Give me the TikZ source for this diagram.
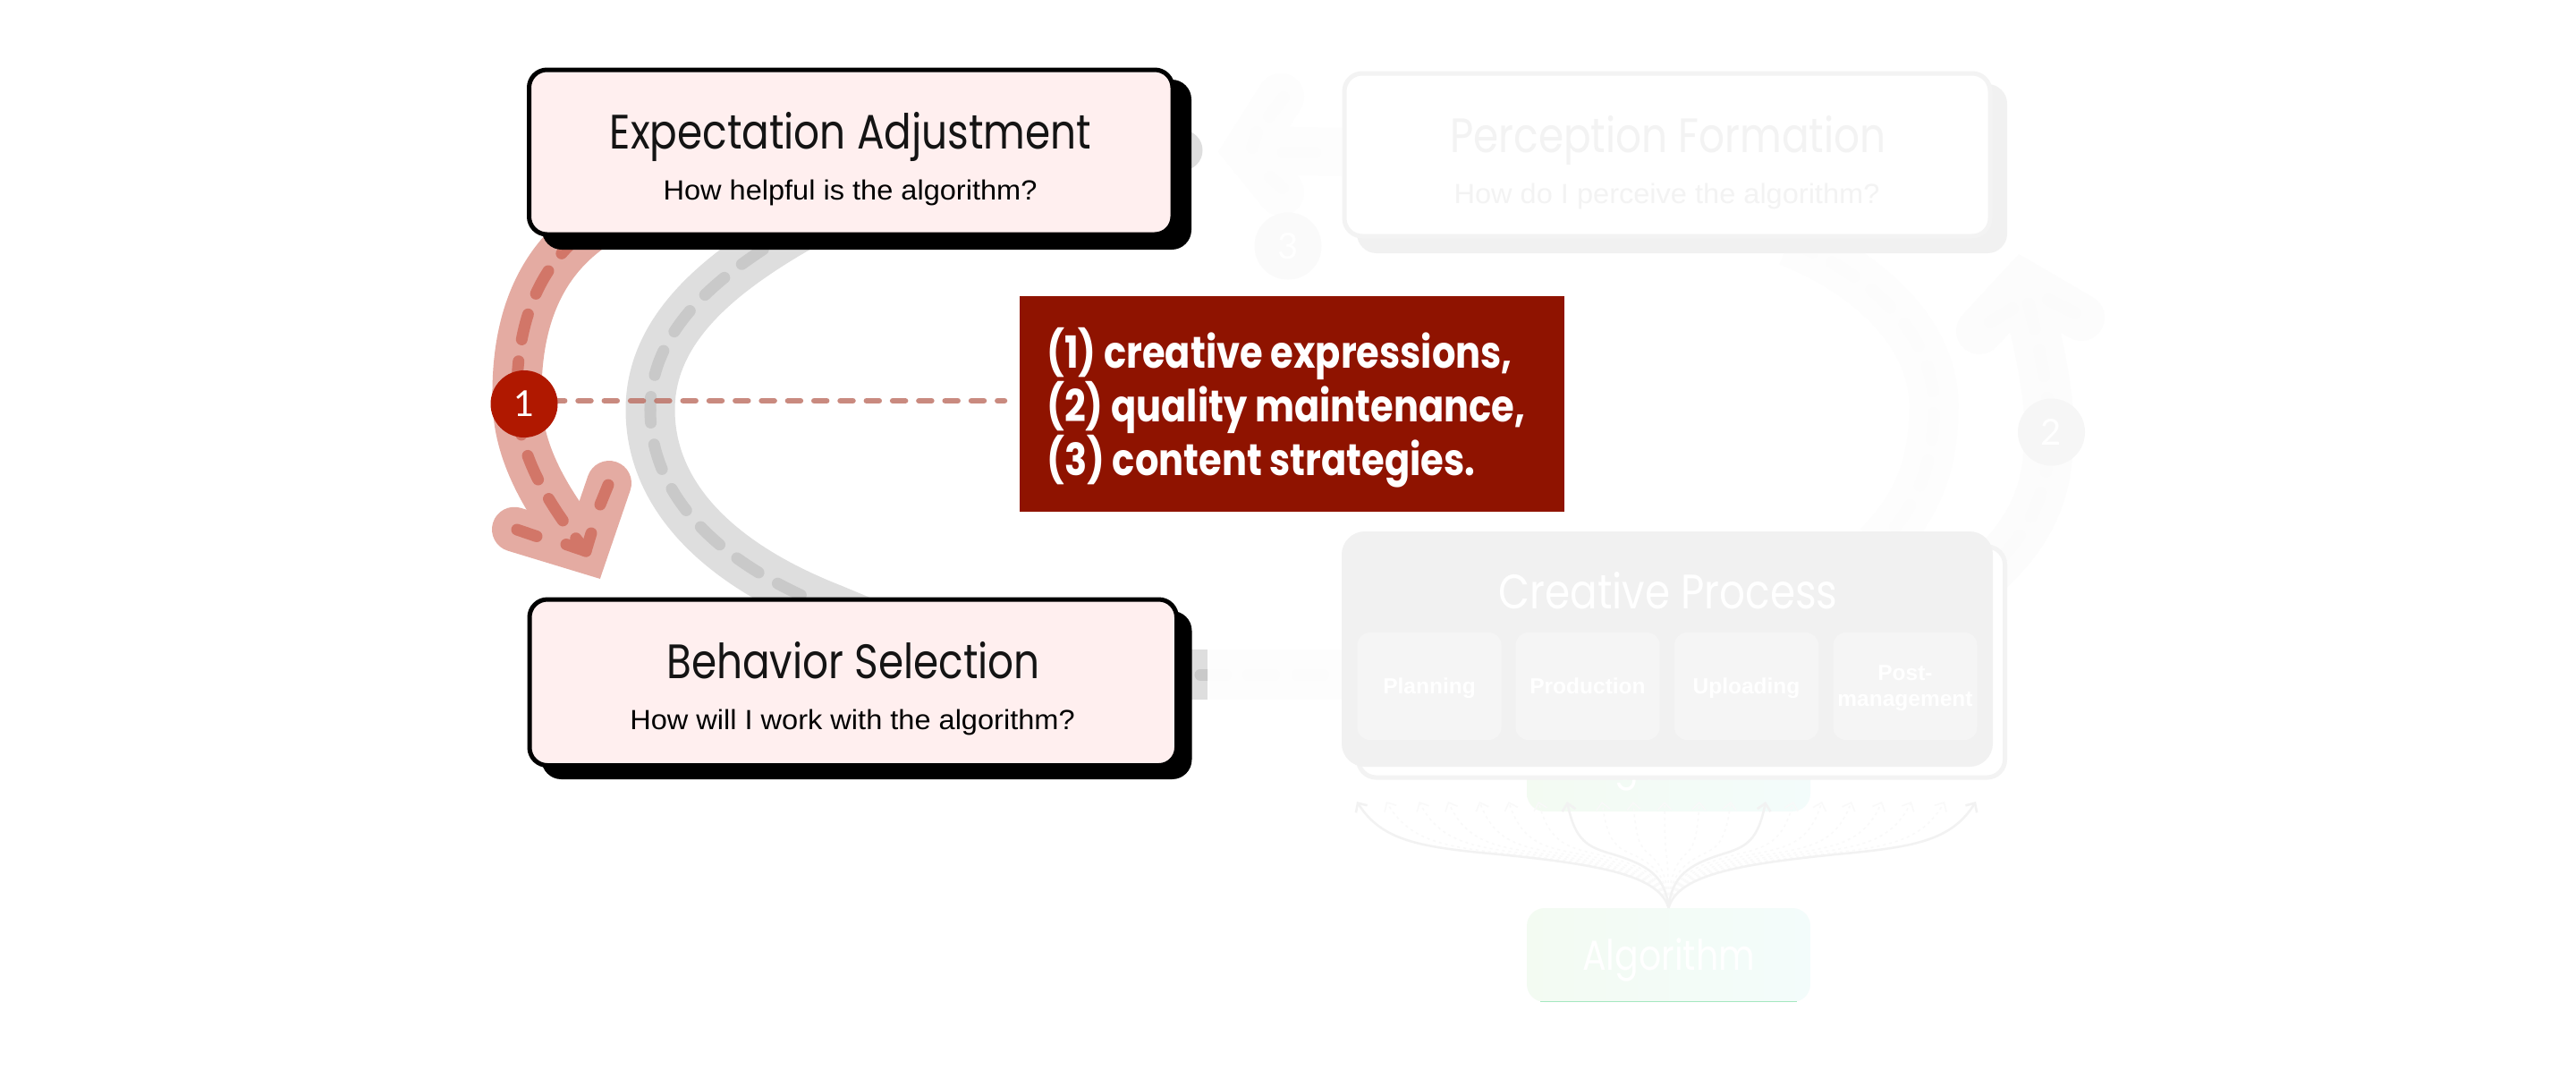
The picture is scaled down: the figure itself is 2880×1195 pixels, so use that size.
\documentclass[tikz,border=0pt]{standalone}
\usepackage{fontspec}
\usetikzlibrary{arrows.meta,calc}
\setmainfont{Liberation Sans}
\newfontfamily\outfit[FakeStretch=0.84]{Poppins}
\newfontfamily\numfont{Lato}
\newfontfamily\interish[FakeStretch=1.05]{Liberation Sans}
\definecolor{roadred}{HTML}{E4ABA2}
\definecolor{dashred}{HTML}{D27668}
\definecolor{roadgray}{HTML}{DEDEDE}
\definecolor{dashgray}{HTML}{C9C9C9}
\definecolor{pinkfill}{HTML}{FFEFEF}
\definecolor{darkred}{HTML}{8F1300}
\definecolor{circred}{HTML}{B01800}
\definecolor{linkred}{HTML}{BC6D60}
\definecolor{ink}{HTML}{141414}
\definecolor{faintA}{HTML}{FCFCFC}
\definecolor{faintB}{HTML}{FBFBFB}
\definecolor{faintC}{HTML}{FDFDFD}
\definecolor{circ3}{HTML}{FAFAFA}
\definecolor{ghost}{HTML}{F3F3F3}
\definecolor{procfill}{HTML}{F1F1F1}
\definecolor{subfill}{HTML}{F5F5F5}
\definecolor{greenL}{HTML}{F3FBF2}
\definecolor{greenR}{HTML}{F3FCFB}
\definecolor{greenline}{HTML}{A5E8C0}
\definecolor{F0col}{HTML}{F2F2F2}
\definecolor{F5col}{HTML}{F9F9F9}
\tikzset{
  road/.style={line width=55pt,line cap=butt,line join=round},
  lanedash/.style={line width=13pt,line cap=round,dash pattern=on 29pt off 24.6pt},
  segdash/.style={line width=13pt,line cap=round,line join=round},
  head/.style={line width=52pt,line cap=round,line join=miter,miter limit=10},
  cardbox/.style={rectangle,rounded corners=20pt,draw=black,line width=5pt,fill=pinkfill,inner sep=0pt},
  blackshadow/.style={rectangle,rounded corners=22pt,fill=black,inner sep=0pt},
  ghostshadow/.style={rectangle,rounded corners=22pt,fill=procfill,inner sep=0pt},
  ghostbox/.style={rectangle,rounded corners=20pt,draw=ghost,line width=5pt,fill=white,inner sep=0pt},
  subbox/.style={rectangle,rounded corners=14pt,fill=subfill,inner sep=0pt,minimum width=161pt,minimum height=120pt},
  cardtitle/.style={anchor=base,inner sep=0pt,font=\outfit\fontsize{54}{60}\selectfont},
  cardsub/.style={anchor=base,inner sep=0pt,font=\interish\fontsize{31}{36}\selectfont},
  algotext/.style={anchor=base,inner sep=0pt,text=white,font=\outfit\fontsize{47}{52}\selectfont},
  resulttext/.style={anchor=base west,inner sep=0pt,text=white,font=\outfit\bfseries\fontsize{49.5}{60}\selectfont},
  steplabel/.style={circle,inner sep=0pt,minimum size=75pt,font=\numfont\fontsize{40}{48}\selectfont,text=white},
  subtext/.style={anchor=base,inner sep=0pt,text=white,font=\bfseries\fontsize{24.5}{29}\selectfont,align=center},
  fanline/.style={line width=2.5pt,color=F0col,-{Straight Barb[length=8pt,width=15pt]}},
  fandot/.style={line width=1.5pt,color=F5col,dash pattern=on 3pt off 4pt,-{Straight Barb[length=8pt,width=15pt]}},
}
\newcommand{\fanpath}[2]{%
  \coordinate (tip) at (#1,896);
  \pgfmathsetmacro{\dx}{1865.5-#1}
  \draw[#2] (alg.north) .. controls ($(alg.north)+(-0.03*\dx,-35)$) and ($(alg.north)+(-0.2*\dx,-48)$) .. ($(alg.north)+(-0.55*\dx,-60)$)
     .. controls ($(alg.north)+(-0.8*\dx,-68)$) and ($(alg.north)+(-0.92*\dx,-75)$) .. (tip);
}
\begin{document}
\begin{tikzpicture}[x=1pt,y=-1pt]
\useasboundingbox (0,0) rectangle (2880,1195);
\fill[white] (0,0) rectangle (2880,1195);

% ---------- faint (de-emphasised) right half ----------
\coordinate (pfW) at (1500,170);
\coordinate (h3V) at (1394,168);
\draw[faintC,road,line width=54pt] (pfW) -- (h3V);
\draw[faintC,head] (1432,108) -- (h3V) -- (1432,215);
\draw[faintA,segdash] (1435,109) -- (1419,130);
\draw[faintA,segdash] (1400,165) -- (1405,148);
\draw[faintA,segdash] (1434,210) -- (1420,198);
\draw[faintA,segdash] (1435,170) -- (1470,170);

\coordinate (h2V) at (2262,317);
\draw[faintA,road] (2200,657) .. controls (2262,610) and (2288,560) .. (2290,500)
   .. controls (2295,470) and (2285,400) .. (h2V);
\draw[faintA,head] (2213,370) -- (h2V) -- (2327,355);
\draw[faintB,lanedash] (2200,657) .. controls (2262,610) and (2288,560) .. (2290,500)
   .. controls (2295,470) and (2285,400) .. (h2V);
\draw[faintB,segdash] (2225,360) -- (2250,345);
\draw[faintB,segdash] (2320,350) -- (2290,335);

\draw[faintC,road] (2000,270) .. controls (2100,310) and (2162,380) .. (2162,453)
   .. controls (2162,510) and (2150,560) .. (2100,610);
\draw[faintA,lanedash] (2000,270) .. controls (2100,310) and (2162,380) .. (2162,453)
   .. controls (2162,510) and (2150,560) .. (2100,610);

\node[ghostshadow,minimum width=727pt,minimum height=189pt] (pfS) at (1880.5,188.5) {};
\node[ghostbox,minimum width=722pt,minimum height=182pt] (pf) at (1864,173) {};
\node[cardtitle,text=ghost] (pfT) at (1865,170) {Perception Formation};
\node[cardsub,text=ghost] (pfQ) at (1863.5,227) {How do I perceive the algorithm?};

\node[steplabel,fill=circ3] (n3) at (1440,275) {3};
\node[steplabel,fill=subfill!85!white] (n2) at (2293.5,483) {2};

\shade[left color=greenL,right color=greenR,rounded corners=20pt] (1707,803) rectangle (2024,907);
\node[algotext] (algHid) at (1865.5,871) {Algorithm};

\shade[left color=greenL,right color=greenR,rounded corners=20pt] (1707,1015) rectangle (2024,1120);
\draw[line width=1pt,greenline] (1722,1119.6) -- (2009,1119.6);
\node[rectangle,inner sep=0pt,minimum width=317pt,minimum height=105pt] (alg) at (1865.5,1067.5) {};
\node[algotext] (algT) at (1865.5,1084) {Algorithm};

\foreach \tx in {1550,1586.7,1619,1654,1686.7,1720,1791,1826,1861,1900,1935,2005,2037,2070,2104,2137,2174}{
  \fanpath{\tx}{fandot}
}
\foreach \tx in {1517,1752,1974,2209}{
  \fanpath{\tx}{fanline}
}

\fill[faintC] (1350,726) rectangle (1500,782);
\draw[faintA,segdash] (1356,754) -- (1370,754);
\draw[faintA,segdash] (1396,754) -- (1424,754);
\draw[faintA,segdash] (1451,754) -- (1479,754);
\fill[roadgray] (1325,726) rectangle (1350,782);
\begin{scope}
  \clip (1325,740) rectangle (1350,770);
  \draw[dashgray,segdash] (1342,754) -- (1380,754);
\end{scope}

\node[ghostbox,minimum width=723pt,minimum height=258pt] (cpS) at (1880,740) {};
\node[rectangle,rounded corners=26pt,fill=procfill,inner sep=0pt,minimum width=728pt,minimum height=263pt] (cp) at (1864,725.5) {};
\node[cardtitle,text=white] (cpT) at (1865,680) {Creative Process};
\node[subbox] (s1) at (1598,767) {};
\node[subbox] (s2) at (1775,767) {};
\node[subbox] (s3) at (1952.5,767) {};
\node[subbox] (s4) at (2130,767) {};
\node[subtext] (s1t) at (1598,775) {Planning};
\node[subtext] (s2t) at (1775,775) {Production};
\node[subtext] (s3t) at (1952.5,775) {Uploading};
\node[subtext] (s4a) at (2130,760) {Post-};
\node[subtext] (s4b) at (2130,789) {management};

% ---------- emphasised left half ----------
\coordinate (grTop) at (880,262);
\coordinate (grTopEnd) at (935,230);
\coordinate (grMid) at (727,458);
\coordinate (grBot) at (930,680);
\coordinate (grBotEnd) at (990,705);
\draw[roadgray,road] (grTopEnd) -- (grTop) .. controls (800,310) and (727,370) .. (grMid) .. controls (727,545) and (790,625) .. (grBot) -- (grBotEnd);
\draw[dashgray,lanedash,dash phase=14.5pt] (grMid) .. controls (727,370) and (800,310) .. (grTop);
\draw[dashgray,lanedash,dash phase=14.5pt] (grMid) .. controls (727,545) and (790,625) .. (grBot);
\fill[roadgray] (1322,168) circle[radius=22.5pt];

\coordinate (rdTop) at (650,262);
\coordinate (rdTopEnd) at (685,234);
\coordinate (rdMid) at (578,445);
\coordinate (rdV) at (655,616);
\coordinate (rdL) at (575,591.7);
\coordinate (rdR) at (681,540);
\draw[roadred,road] (rdTopEnd) -- (rdTop) .. controls (597,305) and (577,370) .. (rdMid) .. controls (578,505) and (610,560) .. (rdV);
\draw[roadred,head,line width=50pt] (rdL) -- (rdV) -- (rdR);
\draw[dashred,lanedash,dash phase=41.3pt] (rdMid) .. controls (577,370) and (597,305) .. (rdTop);
\draw[dashred,lanedash,dash phase=41.3pt] (rdMid) .. controls (578,505) and (610,560) .. (rdV);
\draw[dashred,segdash] (578,592) -- (600,599.5);
\draw[dashred,segdash] (633,608.5) -- (655,616) -- (661,596);
\draw[dashred,segdash] (671,564) -- (680,542);

\node[blackshadow,minimum width=726pt,minimum height=190pt] (eaS) at (969,184) {};
\node[cardbox,minimum width=719.5pt,minimum height=184pt] (ea) at (951.25,170) {};
\node[cardtitle,text=ink] (eaT) at (951,166) {Expectation Adjustment};
\node[cardsub] (eaQ) at (950.5,223) {How helpful is the algorithm?};

\node[blackshadow,minimum width=727pt,minimum height=188pt] (bsS) at (969,777) {};
\node[cardbox,minimum width=723.5pt,minimum height=185.5pt] (bs) at (953.75,762.75) {};
\node[cardtitle,text=ink] (bsT) at (954,758.5) {Behavior Selection};
\node[cardsub] (bsQ) at (953,815.5) {How will I work with the algorithm?};

\coordinate (lnA) at (617.2,448);
\coordinate (lnB) at (1123,448);
\draw[linkred,opacity=0.8,line width=6.5pt,line cap=round,dash pattern=on 14pt off 15.3pt] (lnA) -- (lnB);
\node[steplabel,fill=circred] (n1) at (586,451.5) {1};

\node[rectangle,fill=darkred,inner sep=0pt,minimum width=609pt,minimum height=240.5pt] (res) at (1444.5,451.25) {};
\node[resulttext] (resA) at (1170,411) {(1) creative expressions,};
\node[resulttext] (resB) at (1170,471) {(2) quality maintenance,};
\node[resulttext] (resC) at (1170,531) {(3) content strategies.};
\end{tikzpicture}
\end{document}
